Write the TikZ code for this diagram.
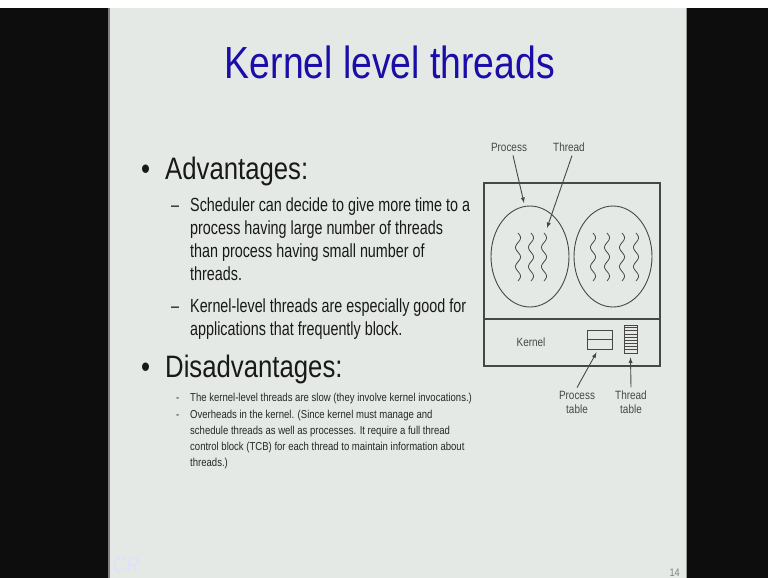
\documentclass[tikz,border=0pt]{standalone}
\usepackage{fontspec}
\setmainfont{Liberation Sans}[FakeStretch=0.83]
\newfontfamily\narrowfont{Liberation Sans}[FakeStretch=0.755]
\usetikzlibrary{arrows}
\definecolor{slidebg}{HTML}{E5E9E6}
\definecolor{titleblue}{HTML}{1A0DA8}
\definecolor{inkgray}{HTML}{474747}
\newcommand{\squiggle}[2]{
	\draw[inkgray, line width=0.8pt] plot[domain=0:1, samples=60, smooth] ({#1+2.5*sin(900*\x)}, {#2+48*\x});
}

\begin{document}
\begin{tikzpicture}[x=1pt, y=-1pt, >=latex, inner sep=0pt,
	heading/.style={anchor=base west, font=\fontsize{31}{31}\selectfont, text=black!90},
	body/.style={anchor=base west, font=\narrowfont\fontsize{19}{19}\selectfont, text=black!90},
	smalltext/.style={anchor=base west, font=\fontsize{11.5}{11.5}\selectfont, text=black!85},
	diaglabel/.style={font=\fontsize{12}{14}\selectfont, text=inkgray, align=center}]
	\useasboundingbox (0,0) rectangle (768,578);
	%screen and slide
	\fill[white] (0,0) rectangle (768,578);
	\fill[black!95] (0,8) rectangle (108,578);
	\fill[black!95] (686,8) rectangle (768,578);
	\fill[slidebg] (108,8) rectangle (686,578);
	\draw[gray, line width=1.5pt] (109,8) -- (109,578);
	\draw[gray!80, line width=1pt] (686,8) -- (686,578);
	
	%title
	\node[font=\fontsize{45}{45}\selectfont, text=titleblue, anchor=base] (title) at (390,78) {Kernel level threads};
	
	%advantages
	\node[heading] (advbullet) at (141,179) {•};
	\node[heading] (adv) at (165,179) {Advantages:};
	\node[body] (advdash1) at (171,211) {–};
	\node[body] (adv1a) at (190,211) {Scheduler can decide to give more time to a};
	\node[body] (adv1b) at (190,234) {process having large number of threads};
	\node[body] (adv1c) at (190,257) {than process having small number of};
	\node[body] (adv1d) at (190,280) {threads.};
	\node[body] (advdash2) at (171,312) {–};
	\node[body] (adv2a) at (190,312) {Kernel-level threads are especially good for};
	\node[body] (adv2b) at (190,335) {applications that frequently block.};
	
	%disadvantages
	\node[heading] (disbullet) at (141,377) {•};
	\node[heading] (dis) at (165,377) {Disadvantages:};
	\node[smalltext] (disdash1) at (176,401) {-};
	\node[smalltext] (dis1) at (190,401) {The kernel-level threads are slow (they involve kernel invocations.)};
	\node[smalltext] (disdash2) at (176,418) {-};
	\node[smalltext] (dis2a) at (190,418) {Overheads in the kernel. (Since kernel must manage and};
	\node[smalltext] (dis2b) at (190,434) {schedule threads as well as processes. It require a full thread};
	\node[smalltext] (dis2c) at (190,450) {control block (TCB) for each thread to maintain information about};
	\node[smalltext] (dis2d) at (190,466) {threads.)};
	
	%diagram: box, processes, kernel
	\draw[inkgray, line width=1.2pt] (484,183) rectangle (660,366);
	\draw[inkgray, line width=1.2pt] (484,319) -- (660,319);
	\draw[inkgray, line width=0.9pt] (530,256.5) ellipse (39 and 50.5);
	\draw[inkgray, line width=0.9pt] (613,256.5) ellipse (39 and 50.5);
	\squiggle{518}{233}
	\squiggle{531}{233}
	\squiggle{544}{233}
	\foreach \sx in {593,607,622,636}
		\squiggle{\sx}{233}
	\coordinate (proctop) at (524,203);
	\coordinate (threadtop) at (547,228);
	
	\node[diaglabel] (kernel) at (531,342) {Kernel};
	\node[draw=inkgray, line width=0.9pt, minimum width=25, minimum height=19] (proctable) at (599.5,339.5) {};
	\draw[inkgray, line width=0.9pt] (proctable.west) -- (proctable.east);
	\node[draw=inkgray, line width=0.9pt, minimum width=13, minimum height=28] (threadtable) at (630.5,339) {};
	\foreach \i in {1,...,8}
		\draw[inkgray, line width=0.6pt] ([yshift={-3.1*\i pt}]threadtable.north west) -- ([yshift={-3.1*\i pt}]threadtable.north east);
	
	%labels
	\node[diaglabel] (proclbl) at (509,147) {Process};
	\node[diaglabel] (threadlbl) at (569,147) {Thread};
	\node[diaglabel] (ptlbl) at (577,402) {Process\\table};
	\node[diaglabel] (ttlbl) at (631,402) {Thread\\table};
	\draw[->, inkgray, line width=0.9pt] ([xshift=4pt, yshift=-4pt]proclbl.south) -- (proctop);
	\draw[->, inkgray, line width=0.9pt] ([xshift=3pt, yshift=-4pt]threadlbl.south) -- (threadtop);
	\draw[->, inkgray, line width=0.9pt] ([yshift=3pt]ptlbl.north) -- ([xshift=-3pt, yshift=-3pt]proctable.south);
	\draw[->, inkgray, line width=0.9pt] ([yshift=3pt]ttlbl.north) -- ([yshift=-4pt]threadtable.south);
	
	%logo and page number
	\node[anchor=base west, text=blue!12!white, font=\itshape\fontsize{22}{22}\selectfont] (logo) at (113,572) {CR};
	\node[anchor=base east, text=gray, font=\fontsize{11}{11}\selectfont] (pagenum) at (680,576) {14};
\end{tikzpicture}
\end{document}
